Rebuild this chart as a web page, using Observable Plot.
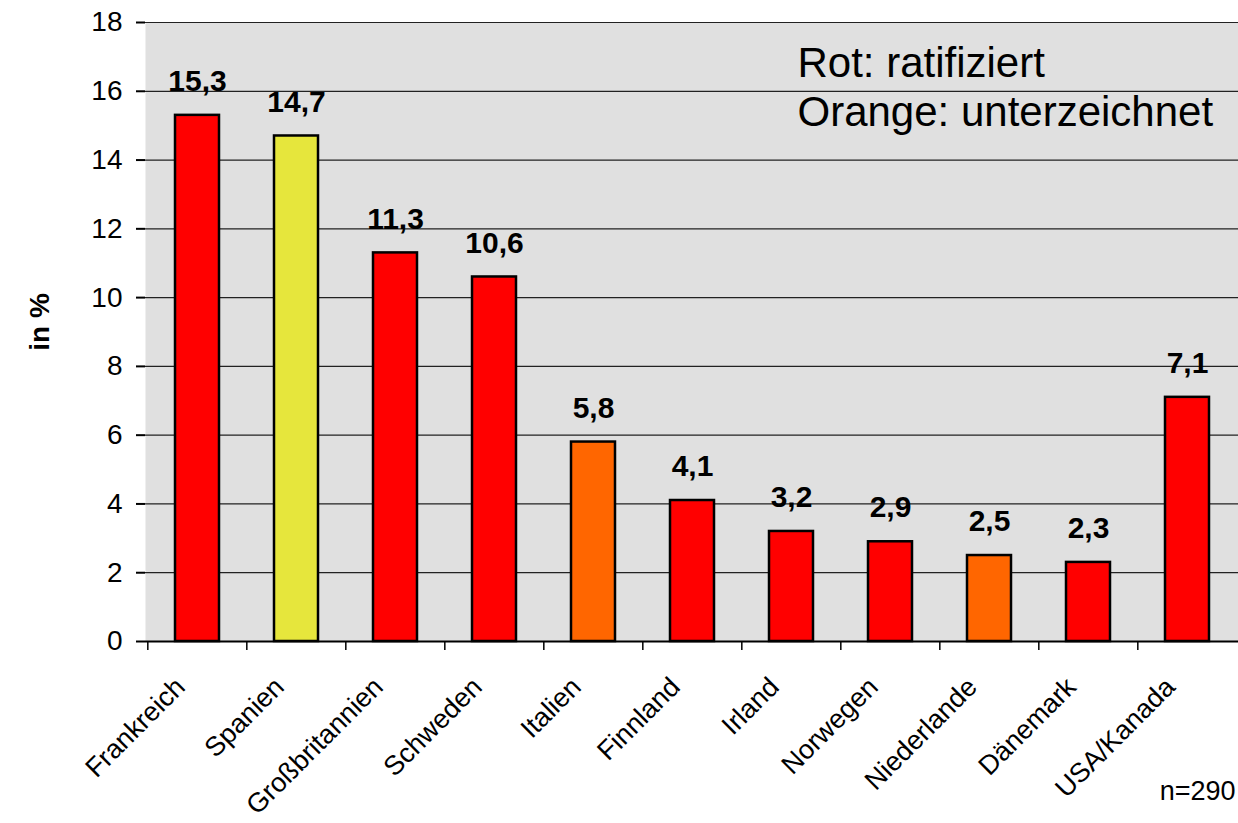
<!DOCTYPE html>
<html>
<head>
<meta charset="utf-8">
<script src="https://cdn.jsdelivr.net/npm/d3@7"></script>
<script src="https://cdn.jsdelivr.net/npm/@observablehq/plot@0.6"></script>
<style>
  html, body { margin: 0; padding: 0; background: #fff; }
  #chart { position: relative; width: 1238px; height: 823px; }
</style>
</head>
<body>
<div id="chart"></div>
<script>
const countries = ["Frankreich", "Spanien", "Großbritannien", "Schweden", "Italien", "Finnland", "Irland", "Norwegen", "Niederlande", "Dänemark", "USA/Kanada"];
const values = [15.3, 14.7, 11.3, 10.6, 5.8, 4.1, 3.2, 2.9, 2.5, 2.3, 7.1];
const status = ["ratifiziert", "sonstige", "ratifiziert", "ratifiziert", "unterzeichnet", "ratifiziert", "ratifiziert", "ratifiziert", "unterzeichnet", "ratifiziert", "ratifiziert"];
const statusDomain = ["ratifiziert", "unterzeichnet", "sonstige"];
const statusColors = ["#ff0000", "#ff6600", "#e6e63c"];
const yTicks = [0, 2, 4, 6, 8, 10, 12, 14, 16, 18];
const legendLines = ["Rot: ratifiziert", "Orange: unterzeichnet"];
const yLabel = "in %";
const note = "n=290";

const data = countries.map((c, i) => ({country: c, value: values[i], status: status[i]}));
const fmt = v => String(v).replace(".", ",");

const W = 1238, H = 823, ML = 145, MR = 0, MT = 22, MB = 182;
const step = (W - ML - MR) / countries.length;

const chart = Plot.plot({
  width: W,
  height: H,
  marginLeft: ML,
  marginRight: MR,
  marginTop: MT,
  marginBottom: MB,
  style: {fontFamily: "'Liberation Sans', Arial, sans-serif", background: "white", color: "black", overflow: "visible"},
  x: {domain: countries, paddingInner: 0.56, paddingOuter: 0.28},
  y: {domain: [0, 18]},
  color: {domain: statusDomain, range: statusColors},
  marks: [
    Plot.frame({fill: "#e0e0e0", stroke: null}),
    Plot.gridY(yTicks, {stroke: "#222", strokeOpacity: 1, strokeWidth: 1.2}),
    Plot.barY(data, {x: "country", y: "value", fill: "status", stroke: "black", strokeWidth: 2.5}),
    Plot.text(data, {x: "country", y: "value", text: d => fmt(d.value), dy: -34, fontSize: 30, fontWeight: "bold", fill: "black"}),
    Plot.axisY({ticks: yTicks, tickSize: 9, tickPadding: 14, fontSize: 28, label: null, line: true, strokeWidth: 2}),
    Plot.axisX({tickSize: 9, tickFormat: () => "", dx: -step / 2, label: null, strokeWidth: 1.5}),
    Plot.axisX({tickSize: 0, tickRotate: -45, tickPadding: 41, dx: -17, fontSize: 27, label: null}),
    Plot.ruleY([0], {stroke: "black", strokeWidth: 2}),
    Plot.text([legendLines[0]], {frameAnchor: "top-left", text: d => d, dx: 652, dy: 41, textAnchor: "start", lineAnchor: "middle", fontSize: 42, fill: "black"}),
    Plot.text([legendLines[1]], {frameAnchor: "top-left", text: d => d, dx: 652, dy: 90, textAnchor: "start", lineAnchor: "middle", fontSize: 42, fill: "black"}),
    Plot.text([yLabel], {frameAnchor: "left", text: d => d, rotate: -90, dx: -105, dy: -10, textAnchor: "middle", lineAnchor: "middle", fontSize: 28, fontWeight: "bold", fill: "black"}),
    Plot.text([note], {frameAnchor: "bottom-right", text: d => d, textAnchor: "end", lineAnchor: "middle", dx: -3, dy: 150, fontSize: 27, fill: "black"})
  ]
});
document.getElementById("chart").appendChild(chart);
</script>
</body>
</html>
